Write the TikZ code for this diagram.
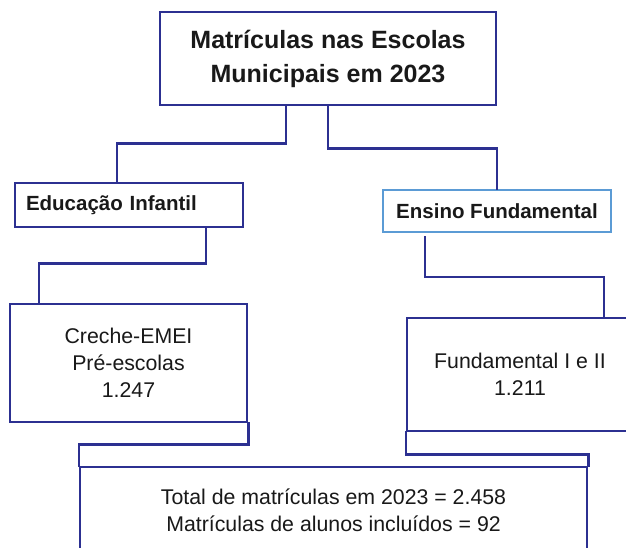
\documentclass[tikz,border=0pt]{standalone}
\usepackage{fontspec}
\setmainfont{Liberation Sans}
\definecolor{boxblue}{RGB}{44,48,145}
\definecolor{lightblue}{RGB}{91,155,213}

\begin{document}
\begin{tikzpicture}[x=1pt,y=-1pt,
  box/.style={draw=boxblue, line width=2.5pt, fill=white, inner sep=0pt, align=center, text=black!90},
  lightbox/.style={box, draw=lightblue, line width=2.2pt},
  link/.style={draw=boxblue, line width=2.5pt, line cap=rect},
  bigtext/.style={font=\fontsize{25}{34}\selectfont\bfseries},
  midtext/.style={font=\fontsize{20.5}{26}\selectfont\bfseries},
  plaintext/.style={font=\fontsize{21.3}{27}\selectfont}]
\fill[white] (0,0) rectangle (626,547);
\useasboundingbox (0,0) rectangle (626,547);

\node[box, bigtext, minimum width=336pt, minimum height=93pt] (Ptop) at (328,58.5) {Matrículas nas Escolas\\Municipais em 2023};
\node[box, midtext, inner xsep=11pt, text width=206pt, align=left, minimum height=44pt] (Pinf) at (129,205) {Educação Infantil};
\node[lightbox, midtext, minimum width=228pt, minimum height=42pt] (Pfund) at (497,211) {Ensino Fundamental};
\node[box, plaintext, minimum width=237pt, minimum height=118pt] (Pcreche) at (128.5,363) {Creche-EMEI\\Pré-escolas\\1.247};
\node[box, plaintext, minimum width=226pt, minimum height=113pt] (Pfund1) at (520,374.5) {Fundamental I e II\\1.211};
\node[box, plaintext, minimum width=507pt, minimum height=86pt] (Ptotal) at (333.5,510) {Total de matrículas em 2023 = 2.458\\Matrículas de alunos incluídos = 92};

\draw[link] ([xshift=-42pt]Ptop.south) -- ++(0,37) -| ([xshift=-12pt]Pinf.north);
\draw[link] (Ptop.south) -- ++(0,42) -| (Pfund.north);
\draw[link] ([xshift=77pt]Pinf.south) -- ++(0,35) -| ([xshift=-89.5pt]Pcreche.north);
\draw[link] ([xshift=-72pt,yshift=-4pt]Pfund.south) -- ++(0,40) -| ([xshift=84pt]Pfund1.north);
\draw[link] (Pcreche.south east) -- ++(0,21) -| (Ptotal.north west);
\draw[link] (Pfund1.south west) -- ++(0,22) -| (Ptotal.north east);
\end{tikzpicture}
\end{document}
